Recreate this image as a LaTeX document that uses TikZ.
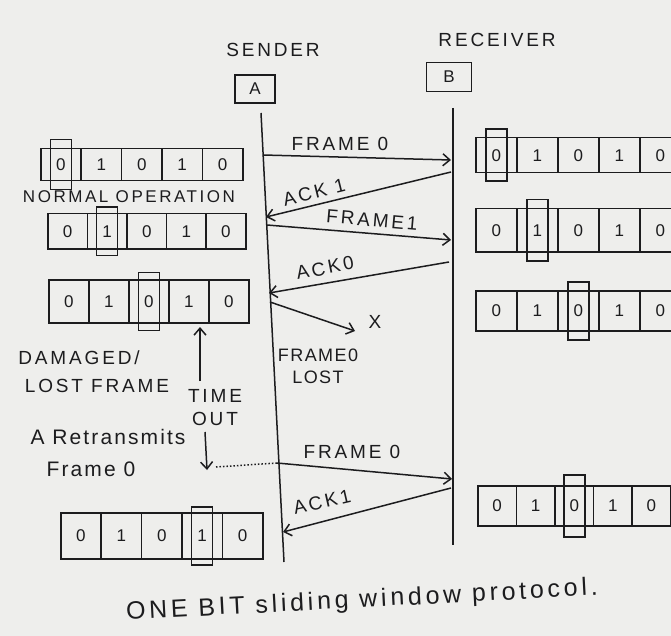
\documentclass[tikz,border=0pt]{standalone}
\usepackage{fontspec}
\setmainfont{Liberation Sans}
\usetikzlibrary{arrows.meta,calc}
\definecolor{inkc}{RGB}{28,28,30}
\definecolor{paper}{RGB}{238,238,236}
\newcommand\drawwin[7]{%
  \foreach \i/\v in {1/0,2/1,3/0,4/1,5/0}{
    \node[cell, minimum width=#4, minimum height=#5, anchor=north west] (#1-\i) at ({#2+(\i-1)*#4}, #3) {\v};
  }
  \node[hl, minimum height=#7] (#1-h) at (#1-#6.center) {};
}
\begin{document}
\begin{tikzpicture}[x=1pt,y=-1pt,
  ink/.style={draw=inkc, line width=1.5pt},
  cell/.style={draw=inkc, line width=1.5pt, inner sep=0pt, font=\fontsize{17}{17}\selectfont, text=inkc},
  hl/.style={draw=inkc, line width=1.5pt, minimum width=21pt, inner sep=0pt},
  msg/.style={draw=inkc, line width=1.5pt, -{Straight Barb[length=7pt,width=12pt]}},
  lbl/.style={font=\fontsize{19}{23}\selectfont\addfontfeatures{LetterSpace=15}, text=inkc, inner sep=1pt},
  lc/.style={font=\fontsize{21}{24}\selectfont\addfontfeatures{LetterSpace=10}, text=inkc, inner sep=1pt},
  hbox/.style={draw=inkc, line width=1.5pt, font=\fontsize{17}{18}\selectfont, text=inkc, inner sep=0pt}]
\fill[paper] (0,0) rectangle (671,636);
\useasboundingbox (0,0) rectangle (671,636);
\clip (0,0) rectangle (671,636);

% headers
\node[lbl] (sender) at (273,50) {SENDER};
\node[lbl] (receiver) at (497,40) {RECEIVER};
\node[hbox, minimum width=40, minimum height=28] (A) at (255,89) {A};
\node[hbox, minimum width=45, minimum height=29] (B) at (449,77) {B};

% lifelines
\coordinate (sT) at (261,113); \coordinate (sB) at (284,562);
\coordinate (rT) at (453,108); \coordinate (rB) at (453,545);
\draw[ink] (sT) -- (sB);
\draw[ink] (rT) -- (rB);

% sender windows
\drawwin{L1}{40}{148}{40.4}{32}{1}{50}
\drawwin{L2}{47}{213}{39.6}{35}{2}{48}
\drawwin{L3}{48}{279}{40}{43}{3}{58}
\drawwin{L4}{60}{512}{40.4}{46}{4}{58}
% receiver windows
\drawwin{R1}{475}{137}{41}{35}{1}{52}
\drawwin{R2}{475}{208}{41}{43}{2}{61}
\drawwin{R3}{475}{290}{41}{40}{3}{58}
\drawwin{R4}{477}{485}{38.6}{40}{3}{62}

% messages
\coordinate (s1) at (263,155); \coordinate (r1) at (451,160);
\coordinate (r2) at (451,172); \coordinate (s2) at (266,217);
\coordinate (s3) at (267,225); \coordinate (r3) at (451,240);
\coordinate (r4) at (449,262); \coordinate (s4) at (269,293);
\coordinate (s5) at (270,302); \coordinate (x5) at (355,331);
\coordinate (s6) at (277,463); \coordinate (r6) at (452,479);
\coordinate (r7) at (451,488); \coordinate (s7) at (283,532);

\draw[msg] (s1) -- (r1);
\draw[msg] (r2) -- (s2);
\draw[msg] (s3) -- (r3);
\draw[msg] (r4) -- (s4);
\draw[msg] (s5) -- (x5);
\draw[msg] (s6) -- (r6);
\draw[msg] (r7) -- (s7);

\node[lbl] (t1) at (340,144) {FRAME 0};
\node[lbl, rotate=14] (t2) at (314,192) {ACK 1};
\node[lbl, rotate=-5] (t3) at (372,220) {FRAME1};
\node[lbl, rotate=11] (t4) at (325,268) {ACK0};
\node[lbl] (tx) at (375,322) {X};
\node[lbl, align=center, font=\fontsize{18}{22}\selectfont\addfontfeatures{LetterSpace=8}] (t5) at (318,366) {FRAME0\\LOST};
\node[lbl] (t6) at (352,452) {FRAME 0};
\node[lbl, rotate=13] (t7) at (322,502) {ACK1};

% left annotations
\node[lbl, font=\fontsize{17}{20}\selectfont\addfontfeatures{LetterSpace=15}] (normal) at (129,197) {NORMAL OPERATION};
\node[lbl] (dam) at (79,358) {DAMAGED/};
\node[lbl] (lost) at (97,386) {LOST FRAME};
\node[lbl, align=center] (timeout) at (215,408) {TIME\\OUT};
\node[lc] (retx) at (108,437) {A Retransmits};
\node[lc] (fr0) at (91,469) {Frame 0};

\coordinate (up0) at (200,381); \coordinate (up1) at (200,327);
\draw[msg] (up0) -- (up1);
\coordinate (dn0) at (205,432); \coordinate (dn1) at (207,470);
\draw[msg] (dn0) -- (dn1);
\draw[ink, dotted, line width=1.5pt] (dn1) ++(9,-3) -- (s6);

% caption
\node[lbl, rotate=3, font=\fontsize{25}{28}\selectfont\addfontfeatures{LetterSpace=15}] (cap) at (362,601) {ONE BIT sliding window protocol.};
\end{tikzpicture}
\end{document}
